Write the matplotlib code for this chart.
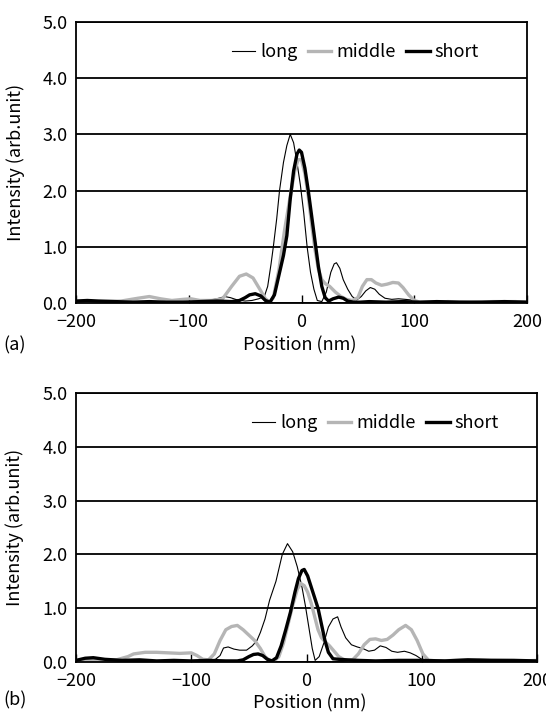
import matplotlib
matplotlib.use("Agg")
import matplotlib.pyplot as plt

plt.rcParams['font.family'] = ['Noto Sans CJK JP', 'DejaVu Sans']
plt.rcParams['font.size'] = 13

# panel (a)
pos_a_long = [-200, -185, -170, -150, -130, -110, -95, -85, -75, -68, -63, -57, -50, -44, -38, -33, -30, -27, -25, -22,
              -19.5, -16, -13, -10, -7, -4, -1, 2, 5, 8, 11, 14, 18, 22, 26, 29, 31, 34, 37, 41,
              45, 49, 53, 57, 61, 65, 69, 74, 80, 86, 92, 97, 101, 105, 115, 130, 150, 170, 190, 200]
int_a_long = [0.03, 0.02, 0.03, 0.02, 0.03, 0.02, 0.03, 0.04, 0.08, 0.12, 0.1, 0.06, 0.04, 0.05, 0.08, 0.12, 0.3, 0.7, 1.0, 1.5,
              2.0, 2.5, 2.8, 3.0, 2.85, 2.5, 2.1, 1.6, 1.0, 0.55, 0.25, 0.05, 0.03, 0.2, 0.55, 0.7, 0.72, 0.62, 0.42, 0.25,
              0.12, 0.06, 0.12, 0.22, 0.28, 0.25, 0.16, 0.09, 0.07, 0.08, 0.07, 0.06, 0.03, 0.02, 0.02, 0.03, 0.02, 0.03, 0.02, 0.02]

pos_a_mid = [-200, -180, -160, -145, -135, -125, -115, -105, -98, -90, -80, -70, -62, -55, -49, -43, -37, -32, -28, -25,
             -20, -15, -10, -6, -3, 0, 3, 6, 9, 12, 15, 18, 21, 25, 30, 35, 40, 45, 50, 54,
             58, 62, 66, 71, 76, 81, 86, 90, 95, 100, 105, 115, 130, 150, 170, 190, 200]
int_a_mid = [0.02, 0.03, 0.04, 0.09, 0.12, 0.08, 0.05, 0.07, 0.08, 0.05, 0.05, 0.08, 0.3, 0.48, 0.52, 0.45, 0.25, 0.08, 0.02, 0.1,
             0.6, 1.3, 1.9, 2.35, 2.55, 2.55, 2.3, 1.9, 1.4, 0.95, 0.6, 0.42, 0.35, 0.3, 0.2, 0.12, 0.07, 0.05, 0.1, 0.3,
             0.42, 0.42, 0.36, 0.32, 0.34, 0.37, 0.36, 0.28, 0.15, 0.05, 0.02, 0.02, 0.03, 0.02, 0.03, 0.03, 0.02]

pos_a_short = [-200, -190, -180, -165, -150, -135, -120, -105, -90, -75, -62, -55, -50, -46, -41, -36, -32, -28, -24, -20,
               -16, -13, -10, -7, -4, -2, 0, 3, 6, 9, 12, 15, 18, 21, 24, 28, 33, 37, 41, 46,
               52, 60, 75, 90, 105, 120, 140, 160, 180, 200]
int_a_short = [0.04, 0.05, 0.04, 0.03, 0.02, 0.03, 0.02, 0.02, 0.03, 0.04, 0.03, 0.05, 0.1, 0.15, 0.17, 0.13, 0.05, 0.02, 0.15, 0.5,
               0.85, 1.2, 1.85, 2.35, 2.65, 2.72, 2.68, 2.4, 2.0, 1.55, 1.1, 0.65, 0.3, 0.1, 0.04, 0.08, 0.11, 0.09, 0.04, 0.02,
               0.02, 0.03, 0.02, 0.03, 0.02, 0.03, 0.02, 0.02, 0.03, 0.02]

# panel (b)
pos_b_long = [-200, -185, -170, -150, -130, -110, -95, -85, -79, -75, -72, -68, -63, -58, -52, -47, -43, -40, -36, -32,
              -26.5, -21, -16.5, -12, -8, -4, -1, 2, 5, 7.5, 11, 15, 19, 23, 27, 30, 34, 39, 44, 49,
              54, 59, 64, 69, 74, 79, 85, 90, 95, 100, 104, 110, 120, 140, 160, 180, 200]
int_b_long = [0.02, 0.03, 0.02, 0.03, 0.02, 0.02, 0.03, 0.03, 0.05, 0.12, 0.26, 0.28, 0.24, 0.22, 0.22, 0.3, 0.4, 0.55, 0.8, 1.15,
              1.5, 2.0, 2.2, 2.05, 1.77, 1.4, 1.05, 0.65, 0.25, 0.03, 0.1, 0.35, 0.65, 0.8, 0.84, 0.65, 0.45, 0.32, 0.28, 0.25,
              0.2, 0.22, 0.3, 0.27, 0.2, 0.18, 0.2, 0.17, 0.12, 0.05, 0.02, 0.03, 0.04, 0.02, 0.02, 0.02, 0.02]

pos_b_mid = [-200, -180, -165, -155, -150, -140, -130, -120, -110, -100, -95, -90, -85, -80, -75, -70, -65, -60, -55, -50,
             -45, -40, -36, -32, -28, -24, -20, -16, -12, -8, -5, -2, 1, 4, 7, 10, 13, 16, 20, 24,
             28, 32, 36, 40, 45, 50, 55, 60, 65, 70, 75, 80, 86, 91, 96, 101, 106, 115, 130, 150, 170, 190, 200]
int_b_mid = [0.02, 0.03, 0.04, 0.1, 0.15, 0.18, 0.18, 0.17, 0.16, 0.17, 0.12, 0.05, 0.04, 0.15, 0.4, 0.6, 0.66, 0.68, 0.6, 0.5,
             0.4, 0.25, 0.1, 0.03, 0.02, 0.1, 0.35, 0.7, 1.05, 1.35, 1.46, 1.42, 1.3, 1.1, 0.85, 0.6, 0.45, 0.38, 0.3, 0.2,
             0.1, 0.05, 0.03, 0.04, 0.15, 0.32, 0.42, 0.43, 0.4, 0.42, 0.5, 0.6, 0.68, 0.6, 0.4, 0.15, 0.03, 0.02, 0.03, 0.04, 0.03, 0.02, 0.03]

pos_b_short = [-200, -192, -185, -175, -160, -145, -130, -115, -100, -85, -70, -60, -55, -50, -46, -42, -38, -34, -30, -26,
               -22, -18, -14, -10, -7, -4, -2, 1, 4, 7, 10, 13, 16, 19, 23, 28, 35, 45, 60, 80,
               100, 120, 140, 160, 180, 200]
int_b_short = [0.03, 0.07, 0.08, 0.05, 0.03, 0.04, 0.02, 0.03, 0.02, 0.03, 0.02, 0.02, 0.04, 0.1, 0.14, 0.15, 0.12, 0.05, 0.02, 0.08,
               0.3, 0.6, 0.92, 1.3, 1.55, 1.7, 1.72, 1.6, 1.4, 1.2, 1.0, 0.7, 0.4, 0.18, 0.06, 0.05, 0.04, 0.03, 0.02, 0.03,
               0.03, 0.02, 0.04, 0.03, 0.03, 0.02]

series_names = ['long', 'middle', 'short']
yticks = [0, 1, 2, 3, 4, 5]
xticks = [-200, -100, 0, 100, 200]

W, H = 546, 714
fig = plt.figure(figsize=(W / 100, H / 100), dpi=100)

ax_a = fig.add_axes([76 / W, 1 - 303.3 / H, 451 / W, 281.7 / H])
ax_b = fig.add_axes([76 / W, 1 - 662 / H, 461 / W, 269 / H])

panels = [
    (ax_a, [(pos_a_long, int_a_long), (pos_a_mid, int_a_mid), (pos_a_short, int_a_short)], (0.619, 0.892)),
    (ax_b, [(pos_b_long, int_b_long), (pos_b_mid, int_b_mid), (pos_b_short, int_b_short)], (0.649, 0.887)),
]
styles = [dict(color='black', lw=0.8), dict(color='#b5b5b5', lw=2.4), dict(color='black', lw=2.4)]

for ax, data, leg_xy in panels:
    for (x, y), st, name in zip(data, styles, series_names):
        ax.plot(x, y, label=name, solid_joinstyle='round', **st)
    ax.set_xlim(-200, 200)
    ax.set_ylim(0, 5)
    ax.set_xticks(xticks)
    ax.set_yticks(yticks)
    ax.set_yticklabels([f'{v:.1f}' for v in yticks])
    ax.yaxis.grid(True, color='black', lw=1.3)
    ax.set_axisbelow(True)
    ax.tick_params(axis='x', direction='in', length=6, width=1, pad=7)
    ax.tick_params(axis='y', length=0, pad=6)
    for sp in ax.spines.values():
        sp.set_color('black')
        sp.set_linewidth(1.3)
    ax.set_ylabel('Intensity (arb.unit)')
    ax.yaxis.set_label_coords(-0.112, 0.5)
    ax.legend(loc='center', bbox_to_anchor=leg_xy, ncol=3, frameon=False,
              handlelength=1.3, handletextpad=0.25, columnspacing=0.6, borderaxespad=0)

fig.text(300 / W, 1 - 345 / H, 'Position (nm)', ha='center', va='center')
fig.text(3 / W, 1 - 345 / H, '(a)', ha='left', va='center')
fig.text(310 / W, 1 - 703 / H, 'Position (nm)', ha='center', va='center')
fig.text(3 / W, 1 - 700 / H, '(b)', ha='left', va='center')

fig.savefig('out.png', dpi=100)
